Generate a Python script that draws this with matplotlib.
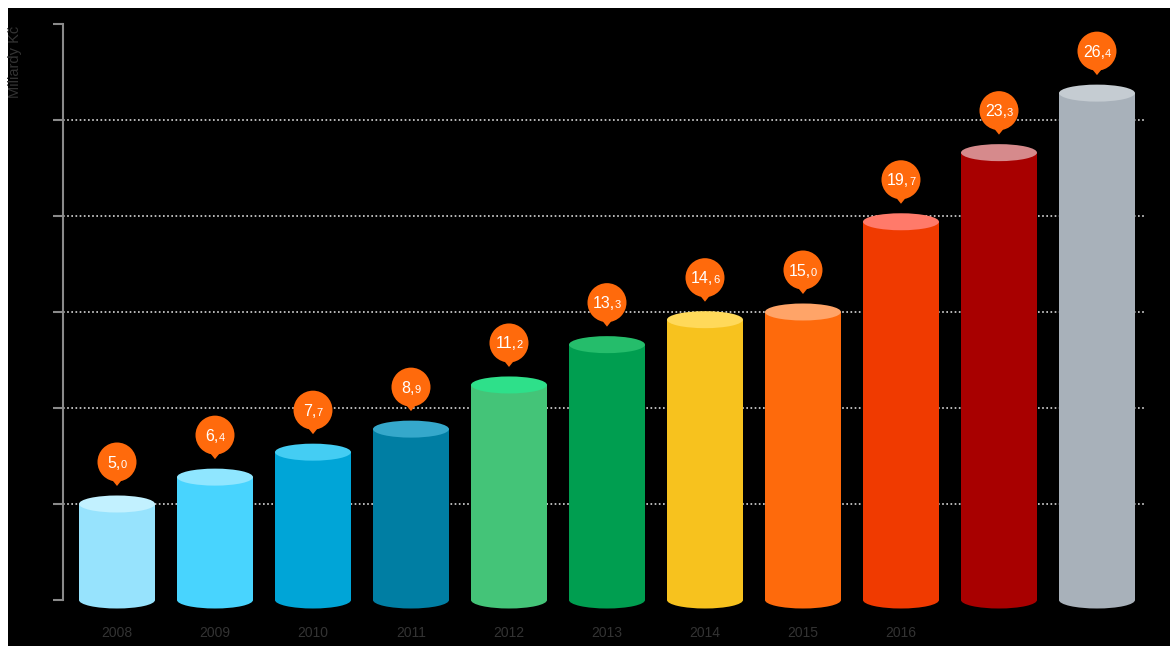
import numpy as np
import matplotlib
matplotlib.use('Agg')
import matplotlib.pyplot as plt
from matplotlib.patches import Ellipse, Rectangle, Polygon

plt.rcParams['font.family'] = ['Liberation Sans', 'DejaVu Sans']

years = ['2008', '2009', '2010', '2011', '2012', '2013', '2014', '2015', '2016', '2017', '2018']
year_labels = ['2008', '2009', '2010', '2011', '2012', '2013', '2014', '2015', '2016', '', '']
values = [5.0, 6.4, 7.7, 8.9, 11.2, 13.3, 14.6, 15.0, 19.7, 23.3, 26.4]
body_colors = ['#97e3fd', '#48d4fe', '#00a5d7', '#007ea3', '#44c478', '#009e50',
               '#f7c21e', '#fe6a0c', '#f03a00', '#a80000', '#a8b1ba']
top_colors = ['#c2f1ff', '#8fe6ff', '#44cdf3', '#35a8cb', '#2ee08a', '#25bd6b',
              '#ffd95a', '#ffa468', '#ff7a6a', '#d68a8c', '#c5ccd2']
bubble_color = '#ff6a0c'

W, H = 1170, 646
fig = plt.figure(figsize=(W / 100, H / 100), dpi=100, facecolor='white')
# black panel (thin white margin on top and left)
fig.patches.append(Rectangle((8 / W, 0), 1, (H - 8) / H, transform=fig.transFigure,
                             facecolor='black', edgecolor='none', zorder=-10))

ax_l, ax_r, ax_b, ax_t = 63, 1145, 600, 24
ax = fig.add_axes([ax_l / W, (H - ax_b) / H, (ax_r - ax_l) / W, (ax_b - ax_t) / H])
ax.set_facecolor('none')
ax.set_xlim(-0.551, 10.49)
ax.set_ylim(0, 30)

# pixel -> data conversion
dx = (ax.get_xlim()[1] - ax.get_xlim()[0]) / (ax_r - ax_l)
dy = 30 / (ax_b - ax_t)

x = np.arange(len(values))
bw = 76 * dx
eh = 17 * dy

for i, v in enumerate(values):
    ax.add_patch(Rectangle((x[i] - bw / 2, 0), bw, v, facecolor=body_colors[i],
                           edgecolor='none', zorder=3, clip_on=False))
    ax.add_patch(Ellipse((x[i], 0), bw, eh, facecolor=body_colors[i],
                         edgecolor='none', zorder=3, clip_on=False))
    ax.add_patch(Ellipse((x[i], v), bw, eh, facecolor=top_colors[i],
                         edgecolor='none', zorder=4, clip_on=False))
    # bubble
    cy = v + 42 * dy
    r = 19.5
    ax.add_patch(Ellipse((x[i], cy), 2 * r * dx, 2 * r * dy, facecolor=bubble_color,
                         edgecolor='none', zorder=5, clip_on=False))
    ax.add_patch(Polygon([(x[i] - 8 * dx, cy - 14 * dy), (x[i] + 8 * dx, cy - 14 * dy),
                          (x[i], cy - 24 * dy)], closed=True, facecolor=bubble_color,
                         edgecolor='none', zorder=5, clip_on=False))

# value labels: big integer part, small decimal
texts = []
for i, v in enumerate(values):
    whole, dec = f'{v:.1f}'.split('.')
    cy = v + 42 * dy - 5.5 * dy
    t1 = ax.text(x[i], cy, whole + ',', color='white', fontsize=11.5,
                 ha='left', va='baseline', zorder=6)
    t2 = ax.text(x[i], cy, dec, color='white', fontsize=8,
                 ha='left', va='baseline', zorder=6)
    texts.append((i, t1, t2))

fig.canvas.draw()
rend = fig.canvas.get_renderer()
for i, t1, t2 in texts:
    w1 = t1.get_window_extent(rend).width
    w2 = t2.get_window_extent(rend).width
    left = x[i] - (w1 + w2) / 2 * dx
    t1.set_x(left)
    t2.set_x(left + w1 * dx)

# grid and axis
for g in [5, 10, 15, 20, 25]:
    ax.axhline(g, color='#d8d8d8', linewidth=1.2, linestyle=(0, (1, 1.5)), zorder=1)

for s in ['top', 'right', 'bottom']:
    ax.spines[s].set_visible(False)
ax.spines['left'].set_color('#8a8a8a')
ax.spines['left'].set_linewidth(1.5)
ax.set_yticks([0, 5, 10, 15, 20, 25, 30])
ax.tick_params(axis='y', length=7.5, width=1.5, color='#8a8a8a', labelleft=False)
ax.set_xticks(x)
ax.set_xticklabels(year_labels, color='#333333', fontsize=10)
ax.tick_params(axis='x', length=0, pad=19)

fig.text(15 / W, (H - 62) / H, 'Miliardy Kč', rotation=90, color='#333333',
         fontsize=10.5, ha='center', va='center')

fig.savefig('out.png', dpi=100, facecolor='white')
